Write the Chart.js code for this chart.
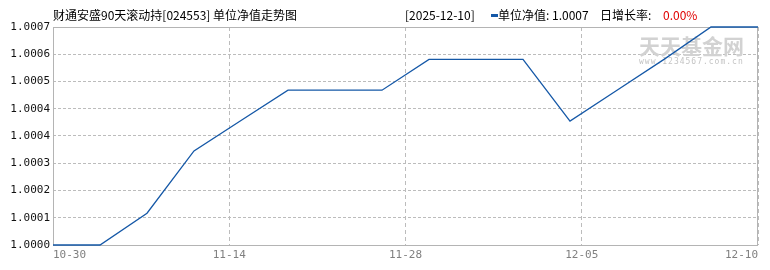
<!DOCTYPE html>
<html>
<head>
<meta charset="utf-8">
<script src="https://cdn.jsdelivr.net/npm/chart.js@4/dist/chart.umd.min.js"></script>
<style>
  html, body { margin: 0; padding: 0; background: #fff; }
  #wrap { width: 770px; height: 270px; }
</style>
</head>
<body>
<div id="wrap"><canvas id="navChart" width="770" height="270"></canvas></div>
<script>
// unit NAV, one value per reported day
const navValues = [1.0000, 1.0000, 1.000102, 1.000302, 1.000400, 1.000497, 1.000497, 1.000497,
                   1.000596, 1.000596, 1.000596, 1.000398, 1.000497, 1.000596, 1.0007, 1.0007];

// x axis: dates shown at quarter positions of the axis
const xTickLabels = ['10-30', '11-14', '11-28', '12-05', '12-10'];

// y axis: 8 even steps from 1.0000 to 1.0007, labels as printed
const yMin = 1.0000;
const yMax = 1.0007;
const yTickLabels = ['1.0000', '1.0001', '1.0002', '1.0003', '1.0004', '1.0004', '1.0005', '1.0006', '1.0007'];

const fundTitle = '财通安盛90天滚动持[024553] 单位净值走势图';
const lastDate = '[2025-12-10]';
const lastNav = '1.0007';
const lastRate = '0.00%';

const lineColor = '#1558a7';
const frameColor = '#b4b4b4';
const gridColor = '#bcbcbc';
const cjkFont = '"Noto Sans CJK SC", "DejaVu Sans", sans-serif';

const lastIndex = navValues.length - 1;
const points = navValues.map((v, i) => ({x: i, y: v}));

// frame, watermark and header texts
const decorPlugin = {
  id: 'decor',
  beforeDatasetsDraw(chart) {
    const ctx = chart.ctx;
    const a = chart.chartArea;
    ctx.save();
    ctx.strokeStyle = frameColor;
    ctx.lineWidth = 1;
    ctx.strokeRect(Math.round(a.left) + 0.5, Math.round(a.top) + 0.5,
                   Math.round(a.right - a.left) - 1, Math.round(a.bottom - a.top));
    ctx.fillStyle = '#d2d2d2';
    ctx.font = 'bold 21px ' + cjkFont;
    ctx.textBaseline = 'middle';
    ctx.textAlign = 'left';
    ctx.fillText('天天基金网', 639, 46);
    ctx.fillStyle = '#c4c4c4';
    ctx.font = '8px "DejaVu Sans Mono", monospace';
    ctx.letterSpacing = '1px';
    ctx.fillText('www.1234567.com.cn', 639, 62);
    ctx.restore();
  },
  afterDraw(chart) {
    const ctx = chart.ctx;
    ctx.save();
    ctx.textBaseline = 'middle';
    ctx.textAlign = 'left';
    ctx.font = '12px ' + cjkFont;
    ctx.fillStyle = '#000';
    ctx.fillText(fundTitle, 53, 15);
    ctx.fillText(lastDate, 405, 15);
    ctx.fillStyle = lineColor;
    ctx.fillRect(491, 14, 7, 3);
    ctx.fillStyle = '#000';
    ctx.fillText('单位净值: ' + lastNav, 498, 15);
    ctx.fillText('日增长率: ', 600, 15);
    ctx.fillStyle = '#e00000';
    ctx.fillText(lastRate, 663, 15);
    ctx.restore();
  }
};

const cfg = {
  type: 'line',
  data: {
    datasets: [{
      label: '单位净值',
      data: points,
      borderColor: lineColor,
      borderWidth: 1.3,
      pointRadius: 0,
      tension: 0,
      fill: false,
      clip: 3
    }]
  },
  options: {
    responsive: false,
    animation: false,
    layout: {padding: {top: 27, right: 12, bottom: 0, left: 0}},
    plugins: {legend: {display: false}, tooltip: {enabled: false}, title: {display: false}},
    scales: {
      x: {
        type: 'linear',
        min: 0,
        max: lastIndex,
        afterBuildTicks: (scale) => {
          scale.ticks = xTickLabels.map((t, i) => ({value: i * lastIndex / (xTickLabels.length - 1)}));
        },
        afterFit: (scale) => { scale.height = 25; },
        ticks: {
          align: 'inner',
          padding: 4,
          maxRotation: 0,
          autoSkip: false,
          color: '#808080',
          font: {family: '"DejaVu Sans Mono", monospace', size: 11},
          callback: (v, i) => xTickLabels[i]
        },
        grid: {color: gridColor, drawTicks: false, lineWidth: 1},
        border: {display: false, dash: [4, 3]}
      },
      y: {
        min: yMin,
        max: yMax,
        afterBuildTicks: (scale) => {
          scale.ticks = yTickLabels.map((t, i) => ({value: yMin + i * (yMax - yMin) / (yTickLabels.length - 1)}));
        },
        afterFit: (scale) => { scale.width = 53; },
        ticks: {
          padding: 3,
          color: '#111',
          font: {family: '"DejaVu Sans Mono", monospace', size: 11},
          callback: (v, i) => yTickLabels[i]
        },
        grid: {color: gridColor, drawTicks: false, lineWidth: 1},
        border: {display: false, dash: [3, 2]}
      }
    }
  },
  plugins: [decorPlugin]
};

let chart = new Chart(document.getElementById('navChart'), cfg);
</script>
</body>
</html>
